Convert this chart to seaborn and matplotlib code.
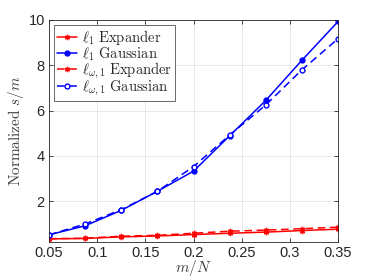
import matplotlib
matplotlib.use("Agg")
import matplotlib.pyplot as plt
import seaborn as sns
import pandas as pd

ratio = [0.05, 0.0875, 0.125, 0.1625, 0.2, 0.2375, 0.275, 0.3125, 0.35]
l1_expander = [0.34, 0.36, 0.43, 0.47, 0.53, 0.59, 0.64, 0.71, 0.77]
l1_gaussian = [0.52, 0.92, 1.60, 2.44, 3.33, 4.89, 6.45, 8.22, 9.93]
lw1_expander = [0.35, 0.37, 0.46, 0.50, 0.59, 0.68, 0.73, 0.79, 0.86]
lw1_gaussian = [0.52, 1.00, 1.63, 2.44, 3.53, 4.92, 6.25, 7.80, 9.17]

labels = [r"$\ell_1\ \mathrm{Expander}$", r"$\ell_1\ \mathrm{Gaussian}$",
          r"$\ell_{\omega,1}\ \mathrm{Expander}$", r"$\ell_{\omega,1}\ \mathrm{Gaussian}$"]
xticks = [0.05, 0.1, 0.15, 0.2, 0.25, 0.3, 0.35]
xticklabels = ["0.05", "0.1", "0.15", "0.2", "0.25", "0.3", "0.35"]
yticks = [2, 4, 6, 8, 10]

sns.set_style("white")
plt.rcParams["font.family"] = ["Liberation Sans", "DejaVu Sans"]
plt.rcParams["mathtext.fontset"] = "cm"

fig = plt.figure(figsize=(3.74, 2.8), dpi=100)
ax = fig.add_axes([0.131, 0.137, 0.773, 0.792])

series = [l1_expander, l1_gaussian, lw1_expander, lw1_gaussian]
colors = ["#ff0000", "#0000ff", "#ff0000", "#0000ff"]
styles = ["-", "-", (0, (5, 3)), (0, (5, 3))]
markers = [(6, 2, 0), "o", (6, 2, 0), "o"]
msizes = [3.8, 3.5, 3.8, 3.5]
faces = ["#ff0000", "#0000ff", "#ff0000", "white"]
for vals, lab, c, ls, mk, ms, fc in zip(series, labels, colors, styles, markers, msizes, faces):
    df = pd.DataFrame({"x": ratio, "y": vals})
    sns.lineplot(data=df, x="x", y="y", ax=ax, color=c, linestyle=ls, marker=mk,
                 markersize=ms, markerfacecolor=fc, markeredgecolor=c,
                 markeredgewidth=1.0, linewidth=1.1, label=lab)

ax.set_xlim(0.05, 0.35)
ax.set_ylim(0.22, 10)
ax.set_xticks(xticks)
ax.set_xticklabels(xticklabels)
ax.set_yticks(yticks)
ax.grid(True, color="#e8e8e8", linewidth=0.7)
for s in ax.spines.values():
    s.set_visible(True)
    s.set_color("#262626")
    s.set_linewidth(0.6)
ax.tick_params(direction="in", length=3, width=0.6, colors="#262626", labelsize=10.5,
               top=True, right=True, bottom=True, left=True, labeltop=False, labelright=False,
               pad=3)
ax.set_xlabel(r"$m/N$", fontsize=11, color="#404040", labelpad=-1)
ax.set_ylabel(r"$\mathrm{Normalized}\ s/m$", fontsize=11, color="#404040", labelpad=2)
leg = ax.legend(loc="upper left", fontsize=10.5, frameon=True, fancybox=False,
                handlelength=1.4, handletextpad=0.3, borderpad=0.2, labelspacing=-0.12,
                borderaxespad=0.35)
leg.get_frame().set_edgecolor("#262626")
leg.get_frame().set_linewidth(0.6)
fig.savefig("out.png", dpi=100)
